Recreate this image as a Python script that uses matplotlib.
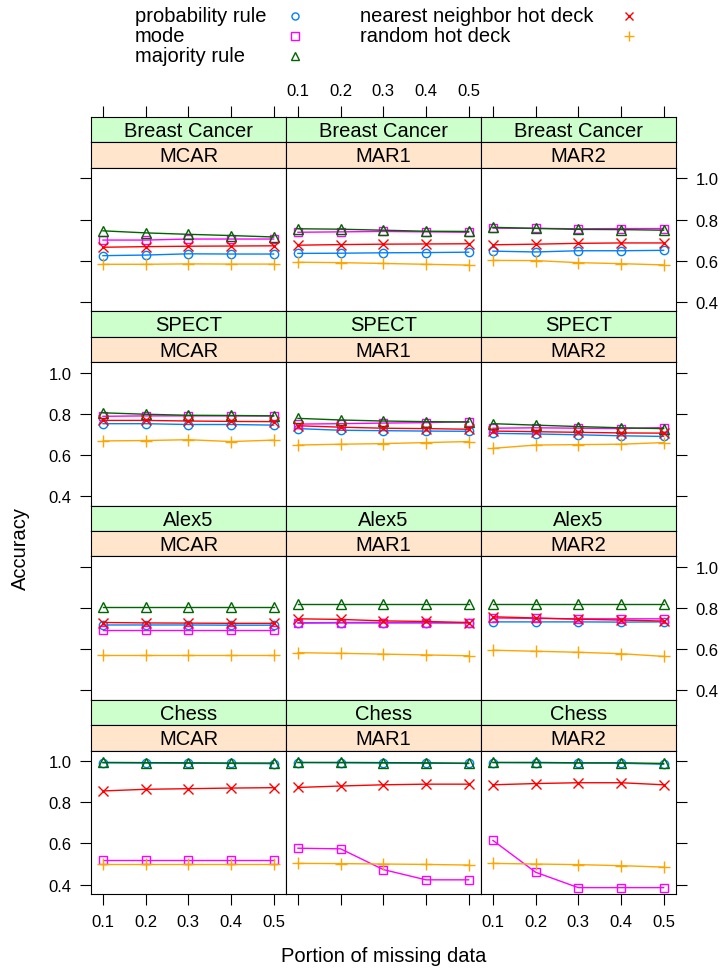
import matplotlib
matplotlib.use("Agg")
import matplotlib.pyplot as plt

plt.rcParams['font.family'] = ['Liberation Sans', 'DejaVu Sans']

datasets = ['Breast Cancer', 'SPECT', 'Alex5', 'Chess']
mechanisms = ['MCAR', 'MAR1', 'MAR2']
portions = [0.1, 0.2, 0.3, 0.4, 0.5]
y_ticks = [0.4, 0.6, 0.8, 1.0]

# accuracy[dataset][mechanism] -> values over portions
probability_rule = [
    [[0.624, 0.627, 0.633, 0.632, 0.632], [0.635, 0.636, 0.638, 0.639, 0.641], [0.646, 0.642, 0.648, 0.648, 0.650]],
    [[0.752, 0.752, 0.748, 0.748, 0.745], [0.728, 0.720, 0.718, 0.716, 0.715], [0.705, 0.702, 0.698, 0.693, 0.690]],
    [[0.718, 0.718, 0.718, 0.717, 0.717], [0.727, 0.728, 0.728, 0.728, 0.728], [0.733, 0.733, 0.733, 0.732, 0.733]],
    [[0.993, 0.992, 0.991, 0.990, 0.989], [0.994, 0.993, 0.992, 0.991, 0.990], [0.994, 0.993, 0.992, 0.991, 0.986]],
]
mode = [
    [[0.700, 0.700, 0.705, 0.705, 0.705], [0.738, 0.740, 0.742, 0.740, 0.738], [0.758, 0.757, 0.755, 0.756, 0.756]],
    [[0.788, 0.790, 0.790, 0.790, 0.790], [0.750, 0.752, 0.755, 0.757, 0.762], [0.730, 0.732, 0.730, 0.728, 0.733]],
    [[0.693, 0.693, 0.693, 0.693, 0.693], [0.729, 0.730, 0.730, 0.730, 0.728], [0.752, 0.750, 0.748, 0.748, 0.748]],
    [[0.522, 0.522, 0.522, 0.522, 0.522], [0.577, 0.574, 0.473, 0.423, 0.423], [0.615, 0.460, 0.385, 0.385, 0.385]],
]
majority_rule = [
    [[0.745, 0.735, 0.728, 0.722, 0.715], [0.755, 0.753, 0.748, 0.743, 0.742], [0.762, 0.757, 0.752, 0.751, 0.748]],
    [[0.805, 0.798, 0.793, 0.792, 0.790], [0.778, 0.770, 0.765, 0.762, 0.760], [0.752, 0.745, 0.738, 0.732, 0.728]],
    [[0.805, 0.805, 0.805, 0.805, 0.805], [0.818, 0.818, 0.818, 0.818, 0.818], [0.822, 0.822, 0.822, 0.822, 0.822]],
    [[0.995, 0.994, 0.993, 0.992, 0.992], [0.995, 0.995, 0.994, 0.993, 0.991], [0.995, 0.995, 0.993, 0.993, 0.990]],
]
nn_hot_deck = [
    [[0.665, 0.668, 0.670, 0.671, 0.672], [0.675, 0.678, 0.680, 0.681, 0.682], [0.677, 0.680, 0.684, 0.686, 0.686]],
    [[0.768, 0.768, 0.765, 0.763, 0.762], [0.742, 0.735, 0.730, 0.728, 0.725], [0.716, 0.713, 0.710, 0.707, 0.706]],
    [[0.730, 0.728, 0.727, 0.726, 0.726], [0.748, 0.745, 0.738, 0.735, 0.730], [0.758, 0.752, 0.746, 0.742, 0.737]],
    [[0.856, 0.864, 0.867, 0.870, 0.872], [0.873, 0.880, 0.886, 0.889, 0.889], [0.886, 0.892, 0.896, 0.896, 0.886]],
]
random_hot_deck = [
    [[0.582, 0.582, 0.584, 0.583, 0.583], [0.592, 0.590, 0.586, 0.582, 0.578], [0.601, 0.600, 0.590, 0.585, 0.579]],
    [[0.668, 0.670, 0.674, 0.665, 0.672], [0.648, 0.652, 0.655, 0.660, 0.665], [0.632, 0.648, 0.650, 0.652, 0.660]],
    [[0.573, 0.573, 0.573, 0.573, 0.573], [0.583, 0.580, 0.576, 0.572, 0.568], [0.595, 0.590, 0.585, 0.578, 0.565]],
    [[0.501, 0.501, 0.501, 0.501, 0.501], [0.503, 0.502, 0.500, 0.498, 0.495], [0.503, 0.500, 0.497, 0.492, 0.485]],
]

method_names = ['probability rule', 'mode', 'majority rule',
                'nearest neighbor hot deck', 'random hot deck']
method_data = [probability_rule, mode, majority_rule, nn_hot_deck, random_hot_deck]
colors = ['#0080ff', '#ff00ff', '#006400', '#ff0000', '#ffa500']
markers = ['o', 's', '^', 'x', '+']
msizes = [6, 6, 7.5, 7, 9]

W, H = 724, 970
fig = plt.figure(figsize=(W / 100, H / 100), dpi=100)


def fig_rect(x, y, w, h):
    # pixel box (top-left origin) -> figure fraction
    return [x / W, 1 - (y + h) / H, w / W, h / H]


x0, col_w = 91, 195
y0, row_h, strip_h = 118, 194.3, 25.3
panel_h = row_h - 2 * strip_h
xlim = (0.072, 0.529)
ylim = (0.353, 1.053)
tick_len = 8
lw = 0.8

for r, ds in enumerate(datasets):
    for c, mech in enumerate(mechanisms):
        top = y0 + r * row_h
        left = x0 + c * col_w
        # strips
        for k, (label, bg) in enumerate([(ds, '#ccffcc'), (mech, '#ffe5cc')]):
            sax = fig.add_axes(fig_rect(left, top + k * strip_h, col_w, strip_h))
            sax.set_facecolor(bg)
            sax.set_xlim(xlim)
            sax.set_yticks([])
            for sp in sax.spines.values():
                sp.set_linewidth(lw)
            sax.text(0.5, 0.47, label, transform=sax.transAxes, ha='center',
                     va='center', fontsize=14.5)
            if r == 0 and k == 0:
                sax.set_xticks(portions)
                sax.set_xticklabels([str(p) for p in portions])
                sax.tick_params(axis='x', top=True, bottom=False, labelbottom=False,
                                labeltop=(c == 1), direction='out', length=tick_len,
                                width=lw, pad=6, labelsize=12)
            else:
                sax.set_xticks([])

        ax = fig.add_axes(fig_rect(left, top + 2 * strip_h, col_w, panel_h))
        for name, data, col, mk, ms in zip(method_names, method_data, colors, markers, msizes):
            ax.plot(portions, data[r][c], color=col, marker=mk, markersize=ms,
                    markerfacecolor='none', markeredgewidth=1.0, linewidth=1.0)
        ax.set_xlim(xlim)
        ax.set_ylim(ylim)
        for sp in ax.spines.values():
            sp.set_linewidth(lw)

        ax.set_xticks(portions)
        ax.set_xticklabels([str(p) for p in portions])
        ax.tick_params(axis='x', bottom=(r == 3), top=False,
                       labelbottom=(r == 3 and c != 1), direction='out',
                       length=tick_len, width=lw, pad=6, labelsize=12)
        ax.set_yticks(y_ticks)
        ax.set_yticklabels(['%.1f' % v for v in y_ticks])
        ax.tick_params(axis='y', left=(c == 0), right=(c == 2),
                       labelleft=(c == 0 and r % 2 == 1),
                       labelright=(c == 2 and r % 2 == 0),
                       direction='out', length=tick_len, width=lw, pad=6,
                       labelsize=12)

# key at the top, text first then symbol
key = fig.add_axes([0, 0, 1, 1])
key.set_xlim(0, W)
key.set_ylim(H, 0)
key.axis('off')
key_cols = [(135, 295), (135, 295), (135, 295), (360, 629), (360, 629)]
key_rows = [17, 37, 57, 17, 37]
for name, col, mk, ms, (tx, mx), ty in zip(method_names, colors, markers, msizes, key_cols, key_rows):
    key.text(tx, ty, name, ha='left', va='center', fontsize=14.5)
    key.plot([mx], [ty], marker=mk, color=col, markersize=ms * 0.85,
             markerfacecolor='none', markeredgewidth=1.0, linestyle='none')

fig.text(383.5 / W, 1 - 957 / H, 'Portion of missing data', ha='center',
         va='center', fontsize=14.5)
fig.text(20 / W, 1 - 548 / H, 'Accuracy', ha='center', va='center',
         rotation=90, fontsize=14.5)

fig.savefig('out.png', dpi=100)
